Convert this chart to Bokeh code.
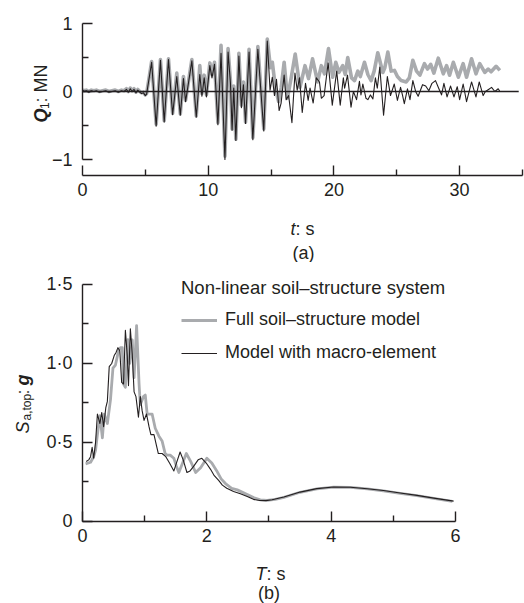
import math
from bokeh.plotting import figure
from bokeh.layouts import column
from bokeh.models import (Range1d, FixedTicker, Label, Legend, LegendItem,
                          CustomJSTickFormatter)
from bokeh.embed import file_html
from bokeh.resources import INLINE

# ---------------- data: panel (a) base shear time history ----------------
t_macro = [0.0, 0.15, 0.3, 0.5, 0.7, 0.9, 1.1, 1.35, 1.6, 1.85, 2.1, 2.35, 2.6, 2.85, 3.1, 3.3,
           3.5, 3.65, 3.8, 3.95, 4.1, 4.25, 4.4, 4.55, 4.7, 4.85, 5.0, 5.1,
           5.5, 5.86, 6.2, 6.5, 6.84, 7.17, 7.5, 7.78, 8.03, 8.2, 8.7, 9.05, 9.33, 9.5, 9.68,
           9.86, 10.13, 10.3, 10.5, 10.77, 11.02, 11.33, 11.58, 11.77, 11.9, 12.03, 12.2,
           12.44, 12.64, 12.8, 12.97, 13.25, 13.55, 13.95, 14.42, 14.7, 14.92, 15.1, 15.27,
           15.43, 15.64, 15.8, 16.04, 16.2, 16.4, 16.66, 16.9, 17.08, 17.26, 17.48, 17.74,
           17.95, 18.1, 18.35, 18.6, 18.85, 19.0, 19.22, 19.54, 19.87, 20.22, 20.5, 20.75,
           20.85, 21.08, 21.36, 21.55, 21.8, 22.03, 22.15, 22.3, 22.55, 22.7, 22.9, 23.1,
           23.3, 23.45, 23.65, 23.8, 23.95, 24.25, 24.5, 24.8, 25.05, 25.3, 25.45, 25.6,
           25.85, 26.05, 26.28, 26.5, 26.7, 27.05, 27.3, 27.55, 27.8, 28.08, 28.35, 28.56,
           28.75, 29.0, 29.28, 29.55, 29.81, 30.0, 30.28, 30.55, 30.95, 31.3, 31.56, 31.87,
           32.05, 32.3, 32.54, 32.8, 33.07, 33.2]
q_macro = [0.02, 0.0, 0.01, -0.01, 0.01, 0.0, 0.01, -0.01, 0.0, 0.01, -0.01, 0.0, 0.01, -0.01,
           0.01, 0.0, 0.03, -0.01, 0.04, 0.0, 0.03, -0.02, 0.02, -0.01, -0.03, -0.02, -0.06,
           -0.04, 0.43, -0.51, 0.46, -0.45, 0.47, -0.34, 0.22, -0.35, 0.19, -0.15, 0.45, -0.38,
           0.25, -0.07, 0.2, -0.08, 0.38, 0.2, 0.4, -0.49, 0.56, -1.0, 0.58, 0.12, -0.57, 0.05,
           -0.72, 0.52, -0.24, 0.1, -0.47, 0.58, -0.71, 0.62, -0.58, 0.74, 0.02, 0.21, -0.06,
           0.18, -0.28, -0.17, 0.24, -0.12, -0.06, -0.46, 0.27, 0.02, 0.2, -0.31, 0.12, -0.13,
           0.05, -0.17, 0.2, 0.14, -0.1, -0.06, 0.42, -0.2, 0.3, -0.2, 0.2, 0.05, 0.24, -0.23,
           0.0, -0.12, 0.15, -0.05, 0.11, -0.1, -0.12, -0.05, -0.11, 0.2, 0.05, 0.36, 0.0,
           -0.35, 0.22, -0.06, 0.11, -0.13, 0.06, -0.05, -0.18, 0.04, -0.12, 0.16, 0.0, -0.07,
           0.1, 0.08, 0.01, 0.12, 0.16, 0.04, -0.05, 0.12, -0.08, 0.08, -0.08, 0.07, -0.12,
           0.11, -0.15, 0.14, -0.08, 0.14, -0.06, 0.0, 0.03, 0.06, 0.0, 0.04, 0.0]

t_full = [0.0, 0.15, 0.3, 0.5, 0.7, 0.9, 1.1, 1.35, 1.6, 1.85, 2.1, 2.35, 2.6, 2.85, 3.1, 3.3,
          3.5, 3.65, 3.8, 3.95, 4.1, 4.25, 4.4, 4.55, 4.7, 4.85, 5.0, 5.1,
          5.5, 5.86, 6.2, 6.5, 6.84, 7.17, 7.5, 7.78, 8.03, 8.2, 8.7, 9.05, 9.33, 9.5, 9.68,
          9.86, 10.13, 10.3, 10.5, 10.77, 11.02, 11.33, 11.58, 11.77, 11.9, 12.03, 12.2,
          12.44, 12.64, 12.8, 12.97, 13.25, 13.55, 13.95, 14.42, 14.7, 14.95, 15.1, 15.35,
          15.6, 15.8, 16.04, 16.3, 16.6, 16.92, 17.3, 17.7, 17.98, 18.3, 18.7, 19.0, 19.25,
          19.57, 19.9, 20.15, 20.4, 20.7, 20.9, 21.1, 21.4, 21.64, 21.9, 22.1, 22.43, 22.7,
          22.96, 23.2, 23.49, 23.89, 24.05, 24.29, 24.55, 24.82, 25.05, 25.35, 25.75, 26.0,
          26.28, 26.57, 26.84, 27.2, 27.45, 27.7, 27.95, 28.3, 28.7, 28.96, 29.2, 29.5, 29.9,
          30.28, 30.55, 30.95, 31.3, 31.6, 32.0, 32.27, 32.5, 32.9, 33.2]
q_full = [0.02, 0.01, 0.02, 0.0, 0.02, 0.01, 0.02, 0.0, 0.01, 0.02, 0.0, 0.01, 0.02, 0.0,
          0.02, 0.01, 0.04, 0.0, 0.05, 0.01, 0.04, -0.01, 0.03, 0.0, -0.02, -0.01, -0.05,
          -0.03, 0.44, -0.48, 0.47, -0.43, 0.48, -0.32, 0.27, -0.33, 0.22, -0.13, 0.47, -0.36,
          0.38, -0.03, 0.24, -0.05, 0.42, 0.25, 0.43, -0.46, 0.68, -0.95, 0.63, 0.15, -0.55,
          0.08, -0.7, 0.56, -0.2, 0.14, -0.45, 0.62, -0.68, 0.66, -0.55, 0.77, 0.35, 0.43,
          0.05, -0.15, 0.05, 0.43, -0.1, 0.2, 0.55, 0.06, 0.38, 0.19, 0.48, 0.14, 0.38, 0.26,
          0.63, 0.21, 0.43, 0.28, 0.38, 0.25, 0.5, 0.2, 0.16, 0.3, 0.22, 0.43, 0.25, 0.16,
          0.3, 0.57, 0.28, 0.35, 0.58, 0.3, 0.31, 0.22, 0.16, 0.14, 0.2, 0.46, 0.3, 0.24,
          0.41, 0.33, 0.4, 0.27, 0.49, 0.26, 0.38, 0.24, 0.43, 0.21, 0.41, 0.21, 0.48, 0.26,
          0.41, 0.28, 0.33, 0.29, 0.37, 0.31]

# zero reference line of panel (a): from t = 0 to the end of the drawn axis
zero_t = [0.0, 34.7]
zero_q = [0.0, 0.0]

# ---------------- data: panel (b) top acceleration spectrum ----------------
T_macro = [0.06, 0.1, 0.13, 0.155, 0.18, 0.21, 0.24, 0.28, 0.31, 0.34, 0.375, 0.4, 0.43,
           0.47, 0.51, 0.54, 0.57, 0.6, 0.63, 0.66, 0.69, 0.72, 0.74, 0.77, 0.8, 0.83, 0.86,
           0.9, 0.93, 0.96, 0.99, 1.03, 1.07, 1.1, 1.15, 1.19, 1.22, 1.28, 1.34, 1.4, 1.47,
           1.52, 1.57, 1.62, 1.68, 1.73, 1.79, 1.86, 1.92, 1.99, 2.06, 2.12, 2.19, 2.25,
           2.32, 2.43, 2.54, 2.65, 2.75, 2.85, 2.95, 3.05, 3.24, 3.5, 3.77, 4.04, 4.31,
           4.58, 4.84, 5.11, 5.38, 5.65, 5.97]
S_macro = [0.38, 0.39, 0.41, 0.47, 0.4, 0.5, 0.68, 0.62, 0.69, 0.6, 0.72, 0.76, 0.98, 1.0,
           1.05, 1.07, 1.1, 1.08, 0.88, 0.87, 1.21, 1.05, 0.86, 1.22, 1.06, 0.82, 0.79, 0.66,
           0.79, 0.7, 0.64, 0.68, 0.6, 0.55, 0.55, 0.48, 0.43, 0.43, 0.41, 0.37, 0.32, 0.38,
           0.44, 0.39, 0.31, 0.32, 0.35, 0.39, 0.4, 0.37, 0.33, 0.29, 0.26, 0.23, 0.21, 0.19,
           0.175, 0.158, 0.14, 0.133, 0.132, 0.138, 0.155, 0.186, 0.208, 0.218, 0.217,
           0.207, 0.196, 0.18, 0.165, 0.148, 0.129]

T_full = [0.05, 0.13, 0.18, 0.21, 0.24, 0.28, 0.32, 0.35, 0.4, 0.45, 0.49, 0.53, 0.58, 0.61,
          0.64, 0.66, 0.69, 0.73, 0.76, 0.8, 0.83, 0.87, 0.91, 0.93, 0.98, 1.01, 1.04, 1.12,
          1.17, 1.23, 1.28, 1.33, 1.36, 1.41, 1.47, 1.51, 1.55, 1.61, 1.67, 1.74, 1.82, 1.9,
          2.0, 2.08, 2.16, 2.23, 2.3, 2.4, 2.49, 2.65, 2.76, 2.86, 2.97, 3.1, 3.24, 3.5,
          3.77, 4.04, 4.31, 4.58, 4.84, 5.11, 5.38, 5.65, 5.95]
S_full = [0.365, 0.375, 0.41, 0.45, 0.55, 0.67, 0.53, 0.68, 0.62, 0.77, 0.97, 0.99, 1.08,
          1.1, 1.1, 0.87, 0.85, 1.15, 1.0, 1.15, 0.91, 1.24, 0.87, 0.74, 0.79, 0.8, 0.68,
          0.68, 0.59, 0.54, 0.51, 0.43, 0.42, 0.42, 0.4, 0.35, 0.31, 0.37, 0.43, 0.38, 0.31,
          0.34, 0.4, 0.37, 0.32, 0.27, 0.24, 0.21, 0.2, 0.17, 0.15, 0.137, 0.133, 0.14,
          0.153, 0.185, 0.207, 0.217, 0.216, 0.206, 0.194, 0.178, 0.163, 0.147, 0.128]

a_xticks = [0, 10, 20, 30]
a_xminor = [5, 15, 25, 35]
a_yticks = [-1, 0, 1]
a_yminor = [-0.5, 0.5]
b_xticks = [0, 2, 4, 6]
b_xminor = [1, 3, 5]
b_yticks = [0, 0.5, 1.0, 1.5]
b_yminor = [0.25, 0.75, 1.25]

FONT = "Liberation Sans"
INK = "#231f20"
GREY = "#a9abae"
FS = "18px"


def style(p, xt, xm, yt, ym, xb, yb, xloc, yloc):
    p.outline_line_color = None
    p.xgrid.visible = False
    p.ygrid.visible = False
    p.background_fill_color = "white"
    p.border_fill_color = "white"
    p.frame_align = False
    p.xaxis.ticker = FixedTicker(ticks=xt, minor_ticks=xm)
    p.yaxis.ticker = FixedTicker(ticks=yt, minor_ticks=ym)
    p.xaxis.bounds = xb
    p.yaxis.bounds = yb
    p.xaxis.fixed_location = xloc
    p.yaxis.fixed_location = yloc
    for ax in (p.xaxis[0], p.yaxis[0]):
        ax.axis_line_color = INK
        ax.axis_line_width = 1.4
        ax.major_tick_line_color = INK
        ax.minor_tick_line_color = INK
        ax.major_tick_line_width = 1.4
        ax.minor_tick_line_width = 1.4
        ax.major_tick_in = 10
        ax.major_tick_out = 0
        ax.minor_tick_in = 6
        ax.minor_tick_out = 0
        ax.major_label_text_font = FONT
        ax.major_label_text_font_size = FS
        ax.major_label_text_color = INK
    p.xaxis.major_label_standoff = 8
    p.yaxis.major_label_standoff = 10


def lab(p, x, y, text, size=FS, style_="normal", angle=0.0, align="left"):
    p.add_layout(Label(x=x, y=y, text=text,
                       angle=angle, text_font=FONT, text_font_size=size,
                       text_font_style=style_, text_color=INK, text_align=align,
                       text_baseline="alphabetic"))


half = math.pi / 2

# ---------------- panel (a) ----------------
p1 = figure(width=524, height=262, x_range=Range1d(-6.523, 35.16),
            y_range=Range1d(-2.515, 1.338),
            output_backend="svg", toolbar_location=None, min_border=0)
style(p1, a_xticks, a_xminor, a_yticks, a_yminor, (0, 35), (-1, 1), -1.235, 0)
p1.yaxis.formatter = CustomJSTickFormatter(
    code="return tick < 0 ? '\u2212' + Math.abs(tick) : '' + tick;")
p1.line(t_full, q_full, line_color=GREY, line_width=3.6, line_join="round")
p1.line(t_macro, q_macro, line_color=INK, line_width=1.1, line_join="round")
p1.line(zero_t, zero_q, line_color=INK, line_width=1.4)

lab(p1, -3.34, -0.456, "Q", style_="bold italic", angle=half)
lab(p1, -3.06, -0.257, "1", size="12px", angle=half)
lab(p1, -3.34, -0.162, ": MN", angle=half)
lab(p1, 16.55, -2.022, "t", style_="italic")
lab(p1, 16.94, -2.022, ": s")
lab(p1, 17.58, -2.382, "(a)", align="center")

# ---------------- panel (b) ----------------
p2 = figure(width=524, height=341, x_range=Range1d(-1.319, 7.110),
            y_range=Range1d(-0.519, 1.639),
            output_backend="svg", toolbar_location=None, min_border=0)
style(p2, b_xticks, b_xminor, b_yticks, b_yminor, (0, 6), (0, 1.5), 0, 0)
p2.yaxis.formatter = CustomJSTickFormatter(
    code="return tick == 0 ? '0' : tick.toFixed(1).replace('.', '\u00b7');")
g2 = p2.line(T_full, S_full, line_color=GREY, line_width=2.8, line_join="round")
b2 = p2.line(T_macro, S_macro, line_color=INK, line_width=1.1, line_join="round")

leg = Legend(items=[LegendItem(label="Full soil\u2013structure model", renderers=[g2]),
                    LegendItem(label="Model with macro-element", renderers=[b2])],
             title="Non-linear soil\u2013structure system", location=(181, 240),
             padding=0, margin=0, spacing=12, glyph_width=36, glyph_height=20,
             label_height=20, label_standoff=8, title_standoff=10,
             border_line_color=None, background_fill_alpha=0,
             label_text_font=FONT, label_text_font_size=FS, label_text_color=INK,
             title_text_font=FONT, title_text_font_size="18.5px", title_text_color=INK,
             title_text_font_style="normal")
p2.add_layout(leg)

lab(p2, -0.965, 0.557, "S", style_="italic", angle=half)
lab(p2, -0.90, 0.639, "a,top", size="12px", angle=half)
lab(p2, -0.965, 0.804, ": ", angle=half)
lab(p2, -0.965, 0.861, "g", style_="bold italic", angle=half)
lab(p2, 2.783, -0.332, "T", style_="italic")
lab(p2, 2.960, -0.332, ": s")
lab(p2, 3.0, -0.450, "(b)", align="center")

layout = column(p1, p2, spacing=0)
open("out.html", "w").write(file_html(layout, INLINE))
